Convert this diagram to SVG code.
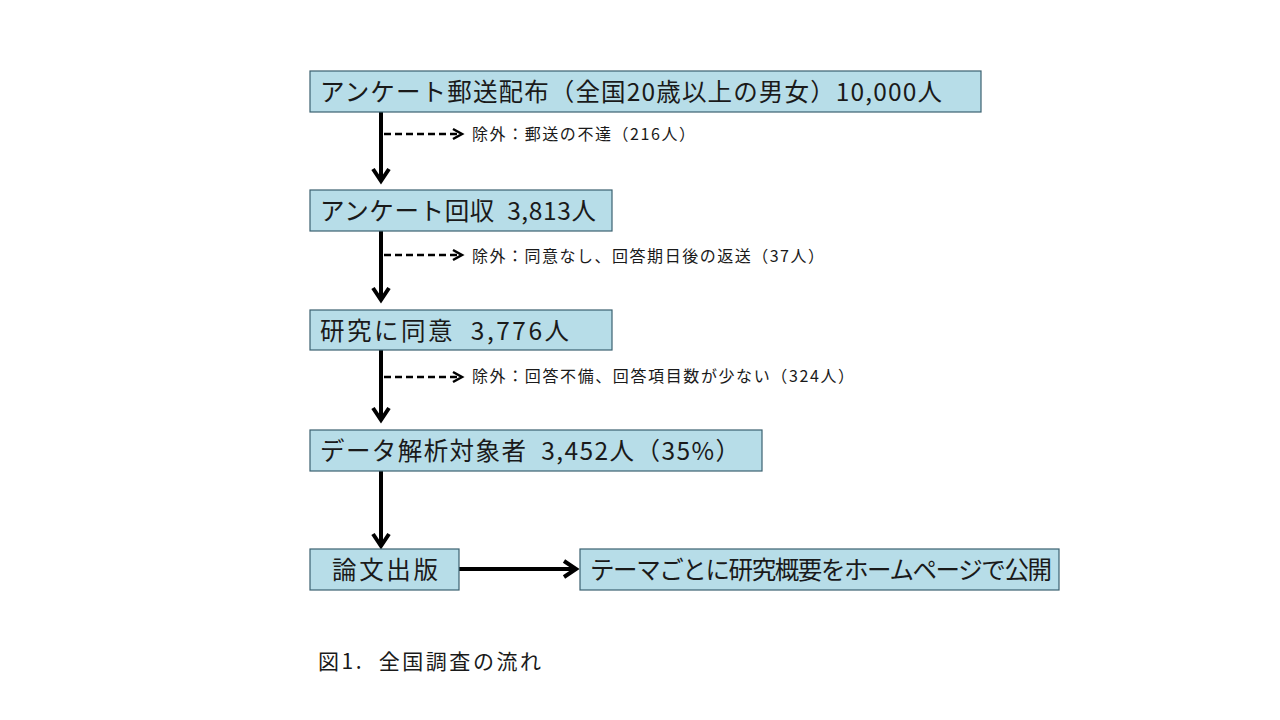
<svg xmlns="http://www.w3.org/2000/svg" width="1280" height="720" viewBox="0 0 1280 720" xml:space="preserve">
<defs>
<style>
.box{fill:#b7dde8;stroke:#3b6170;stroke-width:1.2}
.bt{font-family:"Noto Sans CJK JP","Noto Sans",sans-serif;font-size:24.5px;fill:#1a1a1a;white-space:pre}
.lt{font-family:"Noto Sans CJK JP","Noto Sans",sans-serif;font-size:16px;fill:#1a1a1a;white-space:pre}
.cap{font-family:"Noto Sans CJK JP","Noto Sans",sans-serif;font-size:21px;fill:#1a1a1a;white-space:pre}
.solid{stroke:#000;stroke-width:4;fill:none}
.dash{stroke:#000;stroke-width:2.5;stroke-dasharray:7 4;fill:none}
.head{stroke:#000;fill:none;stroke-linecap:butt;stroke-linejoin:miter}
</style>
</defs>
<rect width="1280" height="720" fill="#fff"/>
<g id="connectors">
<line class="solid" x1="381" y1="112" x2="381" y2="181"/>
<polyline class="head" stroke-width="4" points="373,169 381,181 389,169"/>
<line class="dash" x1="384" y1="134" x2="460" y2="134"/>
<polyline class="head" stroke-width="2.5" points="453,129 462,134 453,139"/>

<line class="solid" x1="381" y1="231" x2="381" y2="300"/>
<polyline class="head" stroke-width="4" points="373,288 381,300 389,288"/>
<line class="dash" x1="384" y1="255" x2="460" y2="255"/>
<polyline class="head" stroke-width="2.5" points="453,250 462,255 453,260"/>

<line class="solid" x1="381" y1="350" x2="381" y2="420"/>
<polyline class="head" stroke-width="4" points="373,408 381,420 389,408"/>
<line class="dash" x1="384" y1="377" x2="460" y2="377"/>
<polyline class="head" stroke-width="2.5" points="453,372 462,377 453,382"/>

<line class="solid" x1="381" y1="471" x2="381" y2="546"/>
<polyline class="head" stroke-width="4" points="373,534 381,546 389,534"/>

<line class="solid" x1="459" y1="569" x2="576" y2="569"/>
<polyline class="head" stroke-width="4" points="564,561 576,569 564,577"/>
</g>
<g id="n1"><rect class="box" x="310" y="71" width="671" height="41"/><text class="bt" x="320" y="101" textLength="622" lengthAdjust="spacing">アンケート郵送配布（全国20歳以上の男女）10,000人</text></g>
<g id="l1"><text class="lt" x="472" y="140" textLength="223" lengthAdjust="spacing">除外：郵送の不達（216人）</text></g>
<g id="n2"><rect class="box" x="310" y="190" width="302" height="41"/><text class="bt" x="320" y="220" textLength="276" lengthAdjust="spacing">アンケート回収  3,813人</text></g>
<g id="l2"><text class="lt" x="472" y="262" textLength="352" lengthAdjust="spacing">除外：同意なし、回答期日後の返送（37人）</text></g>
<g id="n3"><rect class="box" x="310" y="310" width="302" height="40"/><text class="bt" x="320" y="340" textLength="249" lengthAdjust="spacing">研究に同意  3,776人</text></g>
<g id="l3"><text class="lt" x="472" y="382" textLength="382" lengthAdjust="spacing">除外：回答不備、回答項目数が少ない（324人）</text></g>
<g id="n4"><rect class="box" x="310" y="430" width="452" height="41"/><text class="bt" x="320" y="460" textLength="420" lengthAdjust="spacing">データ解析対象者  3,452人（35%）</text></g>
<g id="n5"><rect class="box" x="310" y="549" width="149" height="41"/><text class="bt" x="332" y="579" textLength="106" lengthAdjust="spacing">論文出版</text></g>
<g id="n6"><rect class="box" x="580" y="549" width="479" height="41"/><text class="bt" x="590" y="579" textLength="462" lengthAdjust="spacing">テーマごとに研究概要をホームページで公開</text></g>
<text class="cap" x="318" y="669" textLength="223" lengthAdjust="spacing">図1.  全国調査の流れ</text>
</svg>
